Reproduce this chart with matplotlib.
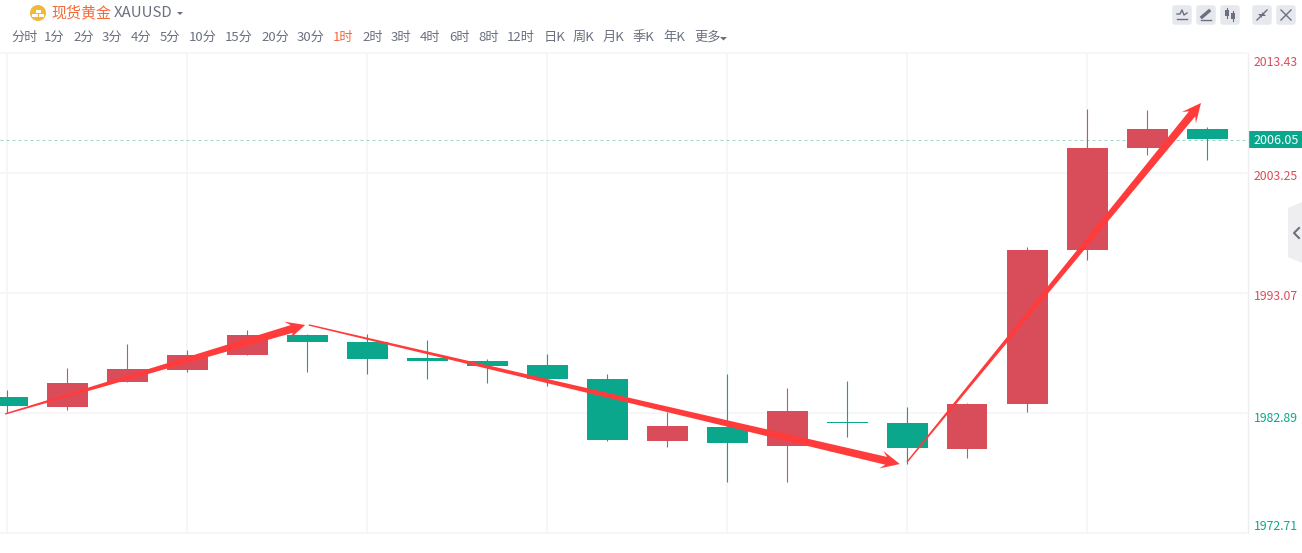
import matplotlib
matplotlib.use('Agg')
import matplotlib.pyplot as plt
from matplotlib.patches import Circle, FancyBboxPatch, Polygon, Rectangle
from matplotlib.transforms import IdentityTransform
import numpy as np

plt.rcParams['font.family'] = ['Noto Sans CJK SC', 'DejaVu Sans']

# candles, one per hour
opens = [1984.25, 1983.40, 1985.52, 1986.54, 1987.81, 1989.51, 1988.91, 1987.56, 1987.30, 1986.96,
         1985.77, 1980.51, 1981.70, 1980.09, 1982.13, 1982.04, 1979.84, 1983.65, 1996.72, 2005.37, 2006.98]
closes = [1983.48, 1985.43, 1986.62, 1987.81, 1989.51, 1988.91, 1987.47, 1987.30, 1986.88, 1985.77,
          1980.60, 1981.79, 1980.35, 1983.06, 1982.04, 1979.92, 1983.65, 1996.72, 2005.37, 2006.98, 2006.13]
highs = [1984.84, 1986.71, 1988.74, 1988.23, 1989.93, 1989.59, 1989.59, 1989.08, 1987.47, 1987.90,
         1986.20, 1982.97, 1986.20, 1985.01, 1985.60, 1983.40, 1983.74, 1996.97, 2008.68, 2008.59, 2007.15]
lows = [1982.89, 1983.14, 1985.52, 1986.37, 1987.81, 1986.37, 1986.20, 1985.77, 1985.43, 1985.18,
        1980.51, 1980.01, 1977.04, 1977.04, 1980.85, 1978.56, 1979.07, 1982.97, 1995.87, 2004.78, 2004.35]

y_ticks = [2013.43, 2003.25, 1993.07, 1982.89, 1972.71]
last_price = 2006.05

# hand drawn arrows: candle index and price at start and tip
arrow_x0 = [-0.03, 5.03, 15.0]
arrow_y0 = [1982.81, 1990.36, 1978.73]
arrow_x1 = [4.97, 14.88, 19.9]
arrow_y1 = [1990.36, 1978.56, 2009.19]

periods = ['分时', '1分', '2分', '3分', '4分', '5分', '10分', '15分', '20分', '30分', '1时', '2时',
           '3时', '4时', '6时', '8时', '12时', '日K', '周K', '月K', '季K', '年K', '更多']
period_left = [11, 44, 73, 102, 131, 160, 189, 225, 261, 297, 333, 362,
               391, 420, 449, 478, 507, 544, 573, 603, 633, 663, 694]

RED = '#d94d5a'
GREEN = '#0aa78c'
ORANGE = '#f4693a'
GREY = '#6b7080'
GRID = '#f5f5f7'
ARROW = '#ff3b3b'

W, H = 1302, 553
fig = plt.figure(figsize=(W / 100, H / 100), dpi=100, facecolor='white')

# chart area is px 0-1247 wide, px 53-533 high
ax = fig.add_axes([0, (H - 533) / H, 1247 / W, 480 / H])
ax.set_xlim(-7 / 60, 1240 / 60)
ax.set_ylim(y_ticks[-1], y_ticks[0])
ax.axis('off')

ax.hlines(y_ticks, -7 / 60, 1240 / 60, color=GRID, lw=1.2, clip_on=False, zorder=1)
ax.vlines(range(0, 21, 3), y_ticks[-1], y_ticks[0], color=GRID, lw=1.2, zorder=1)
ax.axhline(last_price, color='#9ed5c8', lw=0.72, ls=(0, (3, 3)), zorder=1.5)

x = np.arange(len(opens))
colors = [RED if c > o else GREEN for o, c in zip(opens, closes)]
ax.vlines(x, lows, highs, color=colors, lw=0.8, zorder=2)
ax.bar(x, np.abs(np.array(closes) - np.array(opens)), bottom=np.minimum(opens, closes),
       width=41 / 60, color=colors, linewidth=0, zorder=3)

fig.canvas.draw()


def tapered(x0, y0, x1, y1):
    # long thin triangle with a swept head, worked out in screen pixels
    p0, p1 = ax.transData.transform([(x0, y0), (x1, y1)])
    d = p1 - p0
    L = np.hypot(*d)
    u = d / L
    n = np.array([-u[1], u[0]])
    pts = [p0 + 0.7 * n, p1 - 14 * u + 4 * n, p1 - 19 * u + 9 * n, p1,
           p1 - 19 * u - 9 * n, p1 - 14 * u - 4 * n, p0 - 0.7 * n]
    return Polygon(pts, closed=True, transform=IdentityTransform(), facecolor=ARROW,
                   edgecolor='none', zorder=4)


for a, b, c, d in zip(arrow_x0, arrow_y0, arrow_x1, arrow_y1):
    fig.add_artist(tapered(a, b, c, d))

# everything around the chart, in picture pixels
ui = fig.add_axes([0, 0, 1, 1], facecolor='none')
ui.set_xlim(0, W)
ui.set_ylim(H, 0)
ui.axis('off')

ui.plot([1247.5, 1247.5], [53, 533], color='#eeeef1', lw=1)

# right hand price labels
label_y = [63, 177, 297, 418, 527]
label_c = [RED, RED, RED, GREEN, GREEN]
for v, py, c in zip(y_ticks, label_y, label_c):
    ui.text(1276, py, f'{v:.2f}', color=c, fontsize=8.8, ha='center', va='center')

ui.add_patch(Rectangle((1248, 130.5), 54, 17.5, facecolor=GREEN, edgecolor='none'))
ui.text(1276, 141, f'{last_price:.2f}', color='white', fontsize=9, ha='center', va='center')

# collapse tab
ui.add_patch(Polygon([(1302, 202), (1288, 208), (1288, 257), (1302, 263)], facecolor='#eeeef1', edgecolor='none'))
ui.plot([1299, 1294, 1299], [228, 233, 238], color=GREY, lw=1.5)

# header
ui.add_patch(Circle((38, 13), 8, facecolor='#f0b93a', edgecolor='none'))
for bx, by in [(35.5, 9.5), (32, 13.5), (38.5, 13.5)]:
    ui.add_patch(Rectangle((bx, by), 5.5, 3.5, facecolor='white', edgecolor='none'))
ui.text(51, 13, '现货黄金', color=ORANGE, fontsize=10.8, ha='left', va='center')
ui.text(114, 13, 'XAUUSD', color=GREY, fontsize=10.8, ha='left', va='center')
ui.add_patch(Polygon([(177, 12), (183, 12), (180, 15)], facecolor=GREY, edgecolor='none'))

for name, px in zip(periods, period_left):
    ui.text(px, 37, name, color=ORANGE if name == '1时' else GREY, fontsize=9.5, ha='left', va='center')
ui.add_patch(Polygon([(720, 37), (727, 37), (723.5, 40.5)], facecolor=GREY, edgecolor='none'))

# toolbar buttons
for bx in [1172, 1196, 1220, 1252, 1276]:
    ui.add_patch(FancyBboxPatch((bx + 3, 8), 14, 14, boxstyle='round,pad=0,rounding_size=0', facecolor='#e6e8ee',
                                edgecolor='#e6e8ee', lw=4, joinstyle='round'))
ui.plot([1177, 1180, 1182, 1184, 1187], [14, 14, 10, 15, 13], color=GREY, lw=1)
ui.plot([1177, 1187], [19, 19], color=GREY, lw=1)
ui.plot([1202, 1209], [17, 11], color=GREY, lw=2.4)
ui.plot([1201, 1211], [20, 20], color=GREY, lw=1)
for cx, top, bot in [(1227, 10, 16), (1233, 13, 19)]:
    ui.plot([cx, cx], [top - 2, bot + 2], color=GREY, lw=0.8)
    ui.add_patch(Rectangle((cx - 2, top), 4, bot - top, facecolor=GREY, edgecolor='none'))
ui.plot([1257, 1261], [20, 16], color=GREY, lw=1)
ui.plot([1263, 1267], [14, 10], color=GREY, lw=1)
ui.add_patch(Polygon([(1258, 14), (1262, 14), (1262, 18)], facecolor=GREY, edgecolor='none'))
ui.add_patch(Polygon([(1262, 12), (1262, 16), (1266, 16)], facecolor=GREY, edgecolor='none'))
ui.plot([1281, 1291], [10, 20], color=GREY, lw=1)
ui.plot([1281, 1291], [20, 10], color=GREY, lw=1)

fig.savefig('out.png', dpi=100, facecolor='white')
